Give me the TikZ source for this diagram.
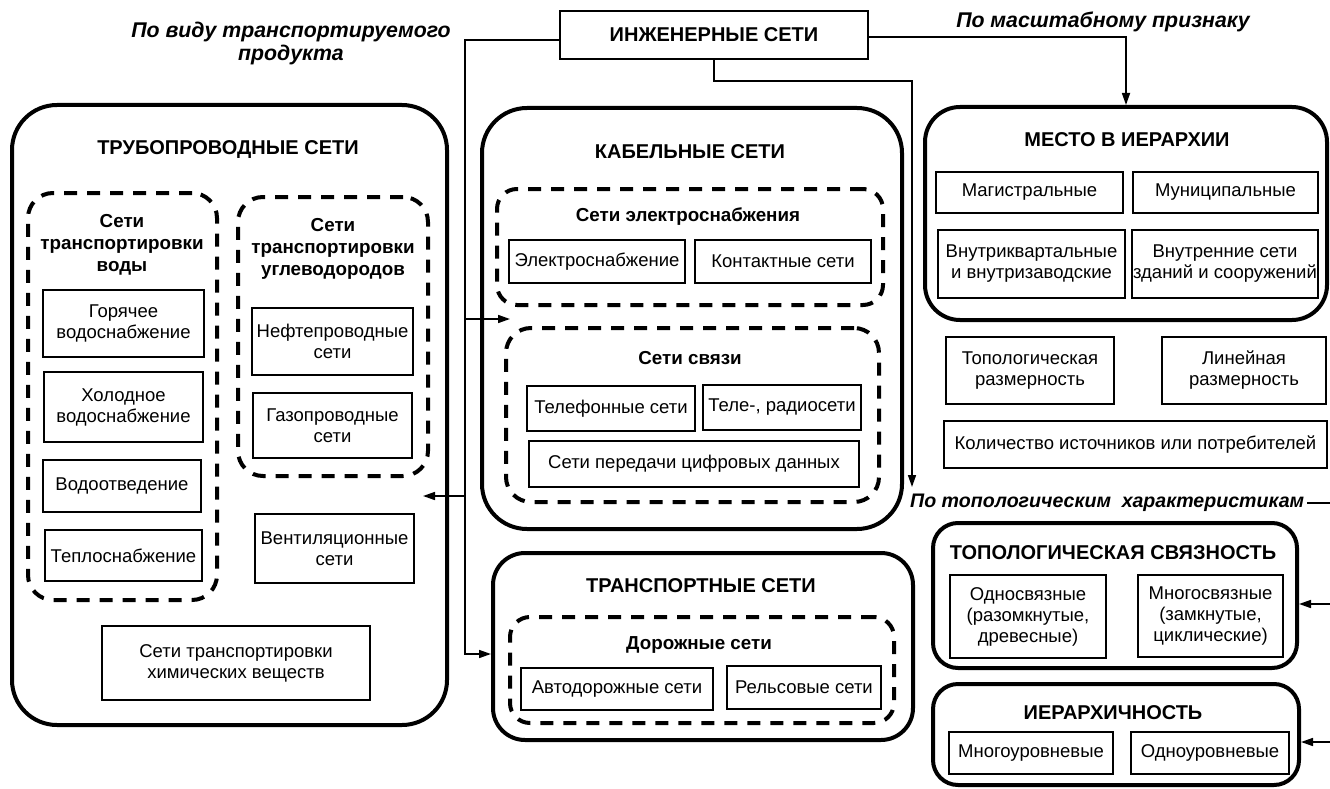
\documentclass[tikz,border=0pt]{standalone}
\usepackage{fontspec}
\setmainfont{Liberation Sans}
\usetikzlibrary{arrows.meta}

\tikzset{
  leaf/.style={draw, line width=1.5pt, inner sep=0pt, align=center,
    font=\fontsize{18.5}{21}\selectfont},
  root/.style={leaf, font=\bfseries\fontsize{20}{23}\selectfont},
  group/.style={draw, line width=4pt, rounded corners=#1, inner sep=0pt},
  group/.default=30pt,
  subgroup/.style={draw, line width=4pt, dash pattern=on 13pt off 10pt,
    rounded corners=#1, inner sep=0pt},
  subgroup/.default=22pt,
  heading/.style={inner sep=0pt, align=center, font=\bfseries\fontsize{20}{23}\selectfont},
  subheading/.style={inner sep=0pt, align=center, font=\bfseries\fontsize{18.8}{22}\selectfont},
  criterion/.style={inner sep=0pt, align=center, font=\bfseries\itshape\fontsize{21.3}{23}\selectfont},
  conn/.style={line width=1.6pt},
  arr/.style={conn, -{Triangle[length=12pt,width=8pt]}},
}

% box given by its corners: \bx[style]{name}{x1}{y1}{x2}{y2}{text}
\newcommand\bx[7][leaf]{%
  \node[#1, minimum width={(#5)-(#3)}, minimum height={(#6)-(#4)}]
    (#2) at ({((#3)+(#5))/2},{((#4)+(#6))/2}) {#7};}

\begin{document}
\begin{tikzpicture}[x=1pt,y=-1pt]
\useasboundingbox (0,0) rectangle (1330,789);

% root
\bx[root]{top}{560}{11}{868}{59}{ИНЖЕНЕРНЫЕ СЕТИ}

% criteria labels
\node[criterion] (critprod) at (291,43) {По виду транспортируемого\\продукта};
\node[criterion] (critscale) at (1103,22) {По масштабному признаку};
\node[criterion, anchor=west, font=\bfseries\itshape\fontsize{19.6}{23}\selectfont]
  (topolab) at (910,503) {По топологическим\ \ характеристикам};

% ---- pipeline networks
\bx[group=45pt]{pipe}{12}{105}{447}{725}{}
\node[heading] (tpipe) at (228,150) {ТРУБОПРОВОДНЫЕ СЕТИ};
\bx[subgroup=25pt]{water}{28}{193}{217}{600}{}
\node[subheading] (twater) at (122,245) {Сети\\транспортировки\\воды};
\bx[subgroup=25pt]{hydro}{238}{197}{428}{476}{}
\node[subheading] (thydro) at (333,249) {Сети\\транспортировки\\углеводородов};
\bx{hot}{43}{290}{204}{357}{Горячее\\водоснабжение}
\bx{cold}{44}{372}{203}{442}{Холодное\\водоснабжение}
\bx{drain}{43}{460}{201}{512}{Водоотведение}
\bx{heat}{45}{530}{202}{581}{Теплоснабжение}
\bx{oil}{252}{308}{413}{375}{Нефтепроводные\\сети}
\bx{gas}{253}{393}{412}{458}{Газопроводные\\сети}
\bx{vent}{255}{514}{414}{583}{Вентиляционные\\сети}
\bx{chem}{102}{626}{370}{700}{Сети транспортировки\\химических веществ}

% ---- cable networks
\bx[group=45pt]{cable}{482}{108}{902}{529}{}
\node[heading] (tcable) at (690,152) {КАБЕЛЬНЫЕ СЕТИ};
\bx[subgroup=20pt]{power}{497}{189}{883}{305}{}
\node[subheading] (tpower) at (688,217) {Сети электроснабжения};
\bx{elec}{509}{240}{685}{283}{Электроснабжение}
\bx{contact}{695}{240}{871}{283}{Контактные сети}
\bx[subgroup=25pt]{comm}{506}{328}{879}{502}{}
\node[subheading] (tcomm) at (690,358) {Сети связи};
\bx{phone}{527}{386}{695}{431}{Телефонные сети}
\bx{tv}{703}{385}{861}{430}{Теле-, радиосети}
\bx{data}{529}{441}{859}{487}{Сети передачи цифровых данных}

% ---- transport networks
\bx[group=32pt]{transport}{493}{553}{913}{740}{}
\node[heading] (ttransport) at (701,586) {ТРАНСПОРТНЫЕ СЕТИ};
\bx[subgroup=20pt]{roads}{510}{617}{894}{723}{}
\node[subheading] (troads) at (699,645) {Дорожные сети};
\bx{auto}{521}{668}{713}{710}{Автодорожные сети}
\bx{rail}{727}{666}{881}{709}{Рельсовые сети}

% ---- scale criteria
\bx[group=35pt]{place}{925}{107}{1327}{320}{}
\node[heading] (tplace) at (1127,140) {МЕСТО В ИЕРАРХИИ};
\bx{trunk}{936}{172}{1123}{213}{Магистральные}
\bx{muni}{1133}{172}{1318}{213}{Муниципальные}
\bx{intra}{938}{230}{1125}{298}{Внутриквартальные\\и внутризаводские}
\bx{inner}{1132}{230}{1318}{298}{Внутренние сети\\зданий и сооружений}
\bx{topdim}{946}{337}{1114}{404}{Топологическая\\размерность}
\bx{lindim}{1162}{337}{1326}{404}{Линейная\\размерность}
\bx{count}{944}{421}{1327}{468}{Количество источников или потребителей}

% ---- topological criteria
\bx[group=25pt]{topo}{933}{523}{1297}{668}{}
\node[heading] (ttopo) at (1113,553) {ТОПОЛОГИЧЕСКАЯ СВЯЗНОСТЬ};
\bx{single}{950}{575}{1106}{658}{Односвязные\\(разомкнутые,\\древесные)}
\bx{multi}{1138}{575}{1283}{657}{Многосвязные\\(замкнутые,\\циклические)}
\bx[group=25pt]{hier}{933}{684}{1299}{785}{}
\node[heading] (thier) at (1113,713) {ИЕРАРХИЧНОСТЬ};
\bx{multilev}{949}{732}{1113}{774}{Многоуровневые}
\bx{onelev}{1131}{732}{1289}{774}{Одноуровневые}

% ---- connectors
\coordinate (bend) at (465,654);
\coordinate (cablein) at (510,319);
\coordinate (pipein) at (423,496);
\coordinate (topoin) at (912,487);
\coordinate (edge) at (1330,503);
\coordinate (edgetopo) at (1330,604);
\coordinate (edgehier) at (1330,742);

\draw[arr] ([yshift=-5pt]top.west) -| (bend) -- (transport.west |- bend);
\draw[arr] (cablein -| bend) -- (cablein);
\draw[arr] (pipein -| bend) -- (pipein);
\draw[arr] ([yshift=-2pt]top.east) -| (place.north);
\draw[arr] (top.south) -- ++(0,21) -| (topoin);
\draw[line width=2.5pt] ([xshift=3pt]topolab.east) -- (edge);
\draw[arr] (edgetopo) -- (topo.east |- edgetopo);
\draw[arr] (edgehier) -- (hier.east |- edgehier);
\end{tikzpicture}
\end{document}
